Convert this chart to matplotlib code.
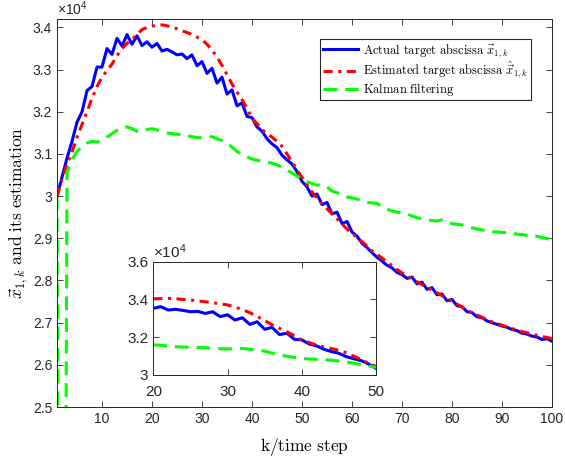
import numpy as np
import matplotlib
matplotlib.use("Agg")
import matplotlib.pyplot as plt
from matplotlib.ticker import FuncFormatter

plt.rcParams['font.family'] = 'Liberation Sans'
plt.rcParams['mathtext.fontset'] = 'cm'

# time steps
k = np.arange(1, 101)

# values in units of 1e4
actual = [3.000, 3.045, 3.090, 3.130, 3.175, 3.200, 3.250, 3.260, 3.306, 3.306,
          3.350, 3.336, 3.374, 3.356, 3.383, 3.360, 3.380, 3.357, 3.366, 3.353,
          3.362, 3.344, 3.348, 3.342, 3.335, 3.337, 3.326, 3.335, 3.309, 3.319,
          3.291, 3.303, 3.268, 3.282, 3.242, 3.252, 3.214, 3.221, 3.189, 3.186,
          3.164, 3.154, 3.136, 3.124, 3.115, 3.097, 3.086, 3.076, 3.058, 3.035,
          3.022, 3.000, 3.005, 2.980, 2.985, 2.958, 2.962, 2.935, 2.940, 2.915,
          2.905, 2.888, 2.878, 2.866, 2.855, 2.846, 2.836, 2.830, 2.819, 2.814,
          2.805, 2.808, 2.792, 2.796, 2.779, 2.783, 2.766, 2.768, 2.752, 2.755,
          2.740, 2.738, 2.726, 2.724, 2.714, 2.712, 2.704, 2.700, 2.696, 2.692,
          2.689, 2.684, 2.681, 2.675, 2.673, 2.668, 2.666, 2.660, 2.662, 2.656]

estimated = [3.000, 3.040, 3.075, 3.105, 3.140, 3.170, 3.200, 3.232, 3.260, 3.282,
             3.298, 3.313, 3.333, 3.350, 3.362, 3.372, 3.383, 3.395, 3.400, 3.403,
             3.405, 3.406, 3.404, 3.400, 3.397, 3.392, 3.388, 3.383, 3.377, 3.371,
             3.360, 3.346, 3.330, 3.310, 3.288, 3.266, 3.247, 3.229, 3.208, 3.185,
             3.172, 3.158, 3.148, 3.140, 3.130, 3.118, 3.100, 3.082, 3.062, 3.045,
             3.027, 3.010, 2.995, 2.982, 2.970, 2.958, 2.946, 2.934, 2.922, 2.912,
             2.902, 2.892, 2.882, 2.870, 2.862, 2.853, 2.844, 2.835, 2.826, 2.818,
             2.811, 2.804, 2.797, 2.790, 2.784, 2.777, 2.771, 2.764, 2.757, 2.751,
             2.744, 2.737, 2.730, 2.723, 2.718, 2.713, 2.707, 2.702, 2.698, 2.694,
             2.690, 2.686, 2.683, 2.679, 2.676, 2.673, 2.670, 2.667, 2.665, 2.662]

kalman = [3.000, 0.000, 3.056, 3.087, 3.106, 3.118, 3.126, 3.130, 3.128, 3.132,
          3.140, 3.148, 3.156, 3.162, 3.164, 3.160, 3.154, 3.153, 3.158, 3.160,
          3.157, 3.153, 3.150, 3.148, 3.147, 3.146, 3.144, 3.141, 3.139, 3.138,
          3.140, 3.141, 3.136, 3.132, 3.126, 3.116, 3.106, 3.099, 3.093, 3.088,
          3.085, 3.083, 3.081, 3.078, 3.074, 3.069, 3.062, 3.055, 3.048, 3.040,
          3.034, 3.030, 3.026, 3.027, 3.022, 3.012, 3.008, 3.004, 2.998, 2.996,
          2.993, 2.989, 2.985, 2.984, 2.983, 2.975, 2.969, 2.965, 2.962, 2.960,
          2.958, 2.953, 2.949, 2.946, 2.944, 2.942, 2.941, 2.944, 2.938, 2.935,
          2.933, 2.932, 2.928, 2.925, 2.922, 2.920, 2.917, 2.916, 2.915, 2.914,
          2.913, 2.912, 2.910, 2.909, 2.907, 2.905, 2.905, 2.902, 2.899, 2.896]

actual = np.array(actual) * 1e4
estimated = np.array(estimated) * 1e4
kalman = np.array(kalman) * 1e4

axcol = '#262626'
fmt = FuncFormatter(lambda v, p: '%g' % (v / 1e4))


def style(ax):
    ax.tick_params(direction='in', top=True, right=True, length=4,
                   labelsize=10, colors=axcol, width=0.6)
    for s in ax.spines.values():
        s.set_color(axcol)
        s.set_linewidth(0.7)


def draw(ax, sl):
    ax.plot(k[sl], actual[sl], color='#0000ff', lw=2.2, label=r'$\mathrm{Actual\ target\ abscissa}\ \vec{x}_{1,k}$')
    ax.plot(k[sl], estimated[sl], color='#ff0000', lw=2.2, dashes=(3, 1.8, 1, 1.8),
            label=r'$\mathrm{Estimated\ target\ abscissa}\ \hat{\vec{x}}_{1,k}$')
    ax.plot(k[sl], kalman[sl], color='#00ff00', lw=2.2, dashes=(4.5, 2.6), label=r'$\mathrm{Kalman\ filtering}$')


fig = plt.figure(figsize=(5.65, 4.61), dpi=100)
ax = fig.add_axes([0.1009, 0.1171, 0.8761, 0.8417])
draw(ax, slice(0, 100))
ax.set_xlim(1, 100)
ax.set_ylim(25000, 34200)
ax.set_xticks(np.arange(10, 101, 10))
ax.set_yticks(np.arange(25000, 34001, 1000))
ax.yaxis.set_major_formatter(fmt)
style(ax)
ax.set_xlabel(r'$\mathrm{k/time\ step}$', fontsize=12.5)
ax.xaxis.set_label_coords(0.5, -0.075)
ax.set_ylabel(r'$\vec{x}_{1,k}\ \mathrm{and\ its\ estimation}$', fontsize=12.5)
ax.yaxis.set_label_coords(-0.052, 0.5)
ax.text(0.0, 1.003, r'$\mathregular{\times10^4}$', transform=ax.transAxes, fontsize=10,
        color=axcol, va='bottom', ha='left')
leg = ax.legend(loc='upper right', bbox_to_anchor=(0.950, 0.928),
                bbox_transform=fig.transFigure, fontsize=9, fancybox=False,
                edgecolor='#262626', framealpha=1, handlelength=2.8,
                borderpad=0.2, labelspacing=0.0, handletextpad=0.4)
leg.get_frame().set_linewidth(0.8)

ins = fig.add_axes([0.2713, 0.1866, 0.3942, 0.2457])
draw(ins, slice(19, 50))
ins.set_xlim(20, 50)
ins.set_ylim(30000, 36000)
ins.set_xticks([20, 30, 40, 50])
ins.set_yticks([30000, 32000, 34000, 36000])
ins.yaxis.set_major_formatter(fmt)
style(ins)
ins.tick_params(labelsize=11)
ins.tick_params(axis='x', pad=7)
ins.text(0.0, 1.005, r'$\mathregular{\times10^4}$', transform=ins.transAxes, fontsize=11,
         color=axcol, va='bottom', ha='left')

fig.savefig('out.png', dpi=100)
